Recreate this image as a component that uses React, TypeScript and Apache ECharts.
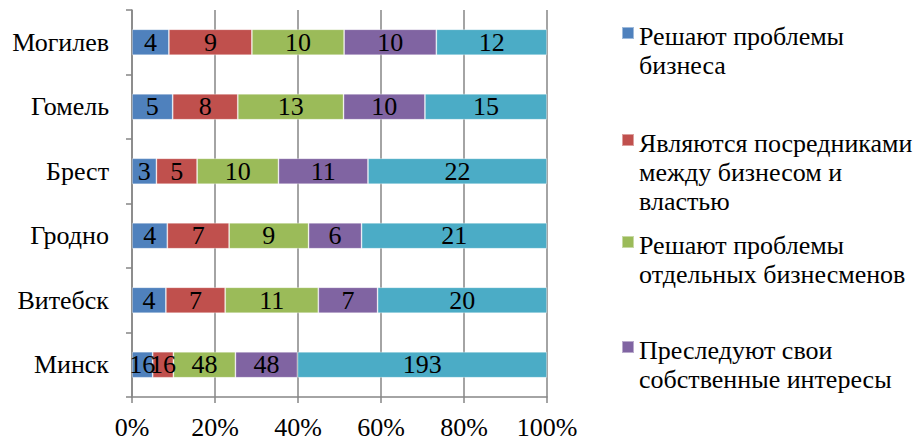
import React, { useEffect, useRef } from "react";
import * as echarts from "echarts";

const categories = ["Минск", "Витебск", "Гродно", "Брест", "Гомель", "Могилев"];
const seriesNames = [
  "Решают проблемы\nбизнеса",
  "Являются посредниками\nмежду бизнесом и\nвластью",
  "Решают проблемы\nотдельных бизнесменов",
  "Преследуют свои\nсобственные интересы",
  "Другое",
];
const solveBusiness = [16, 4, 4, 3, 5, 4];
const mediators = [16, 7, 7, 5, 8, 9];
const solveIndividuals = [48, 11, 9, 10, 13, 10];
const ownInterests = [48, 7, 6, 11, 10, 10];
const other = [193, 20, 21, 22, 15, 12];
const colors = ["#4F81BD", "#C0504D", "#9BBB59", "#8064A2", "#4BACC6"];
const xTicks = [0, 20, 40, 60, 80, 100];

const FONT = "Liberation Serif";
const FS = 26;

export default function App() {
  const ref = useRef<HTMLDivElement>(null);
  useEffect(() => {
    if (!ref.current) return;
    const chart = echarts.init(ref.current, undefined, { renderer: "svg" });
    const raw = [solveBusiness, mediators, solveIndividuals, ownInterests, other];
    const totals = categories.map((_, i) => raw.reduce((s, arr) => s + arr[i], 0));
    const L = 29;
    const iconCenters = [33, 140, 242, 347];
    const legends = seriesNames.slice(0, 4).map((name, k) => {
      const n = name.split("\n").length;
      return {
        data: [name],
        left: 621,
        top: iconCenters[k] + 3 - ((2 * n - 1) * L) / 2,
        orient: "vertical",
        padding: 0,
        icon: "path://M0,0h12v12h-12zM0,18",
        itemWidth: 12,
        itemHeight: 18,
        itemGap: 0,
        selectedMode: false,
        formatter: (nm: string) => "\n".repeat(n - 1) + nm,
        textStyle: {
          fontFamily: FONT,
          fontSize: FS,
          color: "#000",
          lineHeight: L,
        },
      };
    });
    chart.setOption({
      animation: false,
      textStyle: { fontFamily: FONT },
      grid: { left: 132, right: 376, top: 10, bottom: 44, containLabel: false },
      legend: legends,
      xAxis: {
        type: "value",
        min: 0,
        max: 100,
        interval: 20,
        axisLine: { show: true, lineStyle: { color: "#868686", width: 1.5 } },
        axisTick: { show: true, length: 6, lineStyle: { color: "#868686", width: 1.5 } },
        splitLine: { show: true, lineStyle: { color: "#868686", width: 1.5 } },
        axisLabel: {
          formatter: (v: number) => (xTicks.includes(v) ? v + "%" : ""),
          fontFamily: FONT,
          fontSize: FS,
          color: "#000",
          margin: 17,
        },
      },
      yAxis: {
        type: "category",
        data: categories,
        axisLine: { show: true, lineStyle: { color: "#868686", width: 1.5 } },
        axisTick: { show: true, length: 6, lineStyle: { color: "#868686", width: 1.5 } },
        axisLabel: {
          fontFamily: FONT,
          fontSize: FS,
          color: "#000",
          margin: 23,
        },
      },
      series: raw.map((arr, k) => ({
        type: "bar",
        name: seriesNames[k],
        stack: "total",
        barWidth: 26,
        itemStyle: { color: colors[k], borderColor: "rgba(255,255,255,0.45)", borderWidth: 0.8 },
        label: {
          show: true,
          position: "inside",
          fontFamily: FONT,
          fontSize: FS,
          color: "#000",
          formatter: (p: any) => String(arr[p.dataIndex]),
        },
        data: arr.map((v, i) => (v / totals[i]) * 100),
      })),
    });
    return () => chart.dispose();
  }, []);
  return (
    <div
      ref={ref}
      style={{ position: "fixed", left: 0, top: 0, width: 923, height: 441, background: "#fff" }}
    />
  );
}
